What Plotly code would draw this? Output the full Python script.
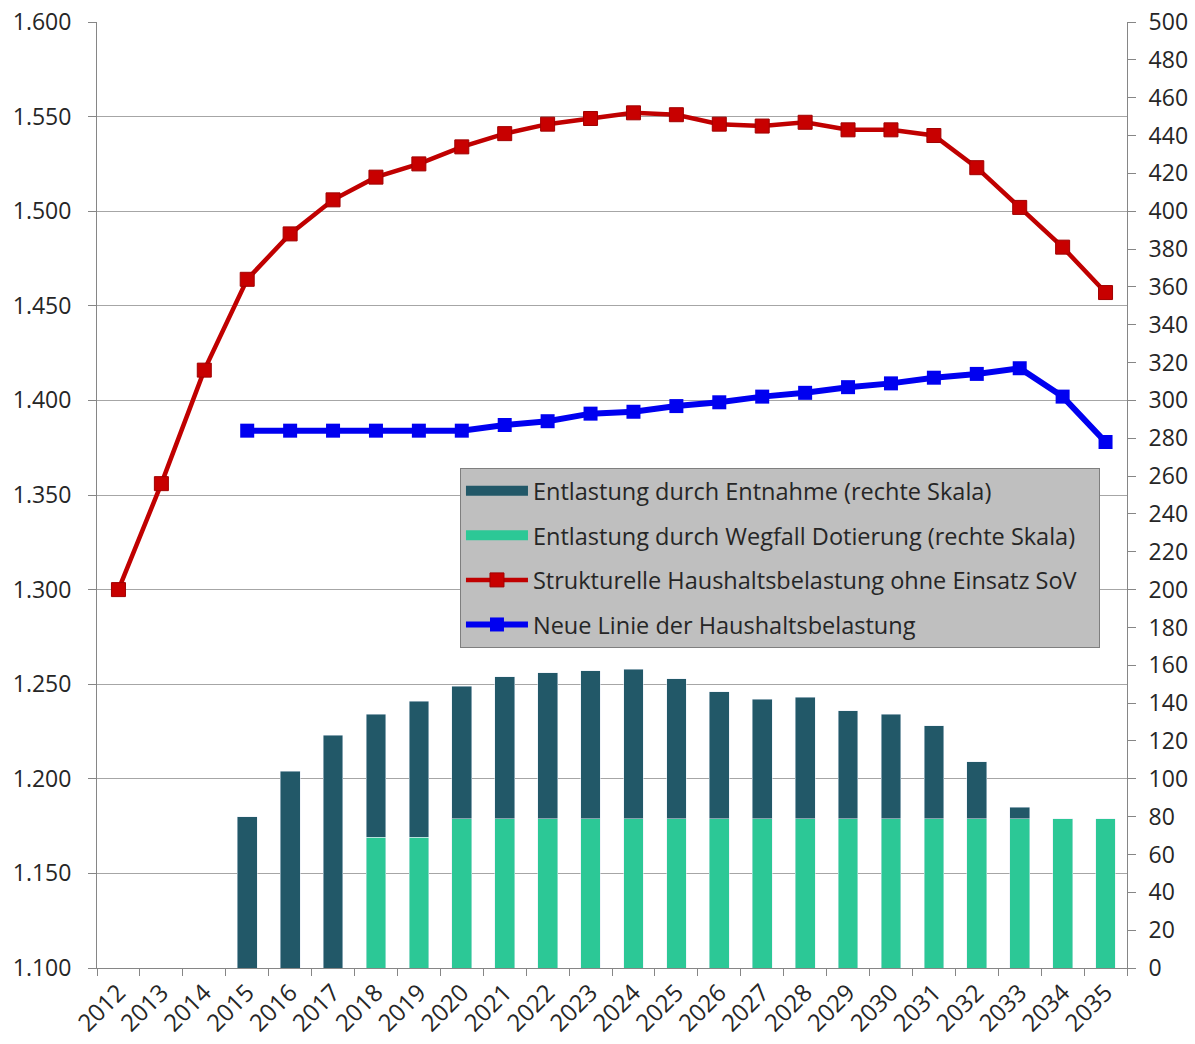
import plotly.graph_objects as go

years = [str(y) for y in range(2012, 2036)]

# Strukturelle Haushaltsbelastung ohne Einsatz SoV (left axis)
strukturell = [1300, 1356, 1416, 1464, 1488, 1506, 1518, 1525, 1534, 1541, 1546, 1549,
               1552, 1551, 1546, 1545, 1547, 1543, 1543, 1540, 1523, 1502, 1481, 1457]
# Neue Linie der Haushaltsbelastung (left axis)
neue_linie = [None, None, None, 1384, 1384, 1384, 1384, 1384, 1384, 1387, 1389, 1393,
              1394, 1397, 1399, 1402, 1404, 1407, 1409, 1412, 1414, 1417, 1402, 1378]
# Entlastung durch Entnahme (right axis)
entnahme = [None, None, None, 80, 104, 123, 65, 72, 70, 75, 77, 78,
            79, 74, 67, 63, 64, 57, 55, 49, 30, 6, None, None]
# Entlastung durch Wegfall Dotierung (right axis)
wegfall = [None, None, None, None, None, None, 69, 69, 79, 79, 79, 79,
           79, 79, 79, 79, 79, 79, 79, 79, 79, 79, 79, 79]

FONT = "Open Sans"
TXT = "#262626"
AX = "#868686"
GRID = "#a6a6a6"
C_ENT = "#225868"
C_WEG = "#2cc896"
PAD = "\u00a0\u00a0\u00a0"

fig = go.Figure()
fig.add_trace(go.Bar(x=years, y=wegfall, yaxis="y2", marker_color=C_WEG,
                     name="Entlastung durch Wegfall Dotierung (rechte Skala)",
                     showlegend=False))
fig.add_trace(go.Bar(x=years, y=entnahme, yaxis="y2", marker_color=C_ENT,
                     name="Entlastung durch Entnahme (rechte Skala)",
                     showlegend=False))
# legend entries for the bars (wide rectangles, as in the original)
fig.add_trace(go.Scatter(x=[None], y=[None], mode="lines", yaxis="y2",
                         line=dict(color=C_ENT, width=14),
                         name="Entlastung durch Entnahme (rechte Skala)",
                         legendrank=1, legendgroup="a"))
fig.add_trace(go.Scatter(x=[None], y=[None], mode="lines", yaxis="y2",
                         line=dict(color=C_WEG, width=14),
                         name="Entlastung durch Wegfall Dotierung (rechte Skala)" + PAD,
                         legendrank=2, legendgroup="b"))
fig.add_trace(go.Scatter(x=years, y=strukturell, mode="lines+markers",
                         line=dict(color="#c00000", width=4.5),
                         marker=dict(symbol="square", size=14, color="#c80000",
                                     line=dict(color="#a00000", width=1)),
                         name="Strukturelle Haushaltsbelastung ohne Einsatz SoV",
                         legendrank=3, legendgroup="c"))
fig.add_trace(go.Scatter(x=years, y=neue_linie, mode="lines+markers",
                         line=dict(color="#0000f0", width=6),
                         marker=dict(symbol="square", size=14, color="#0000f0"),
                         name="Neue Linie der Haushaltsbelastung",
                         legendrank=4, legendgroup="d"))

fig.update_layout(
    width=1195, height=1044,
    margin=dict(l=97, r=68, t=22, b=76),
    paper_bgcolor="white", plot_bgcolor="white",
    separators=",.",
    barmode="stack", bargap=0.54,
    font=dict(family=FONT, color=TXT, size=22),
    showlegend=True,
    legend=dict(x=0.3524, y=0.5285, xanchor="left", yanchor="top",
                bgcolor="#bfbfbf", bordercolor="#7f7f7f", borderwidth=1,
                font=dict(family=FONT, size=23.5, color=TXT),
                traceorder="grouped", tracegroupgap=11, itemwidth=62),
    xaxis=dict(type="category", showline=True, linecolor=AX, linewidth=1,
               ticks="outside", tickson="boundaries", ticklen=7, tickcolor=AX,
               tickangle=-45, tickfont=dict(size=24), showgrid=False,
               range=[-0.5, 23.5], automargin=False),
    yaxis=dict(range=[1100, 1600], dtick=50, tickformat=",d",
               showline=True, linecolor=AX, linewidth=1,
               ticks="outside", ticklen=8, tickcolor=AX,
               showgrid=True, gridcolor=GRID, gridwidth=1,
               tickfont=dict(size=23), zeroline=False,
               ticklabelstandoff=12, automargin=False),
    yaxis2=dict(range=[0, 500], dtick=20, overlaying="y", side="right",
                showline=True, linecolor=AX, linewidth=1,
                ticks="outside", ticklen=8, tickcolor=AX,
                showgrid=False, zeroline=False, tickfont=dict(size=23),
                ticklabelstandoff=8, automargin=False),
)

fig.write_html("out.html")
